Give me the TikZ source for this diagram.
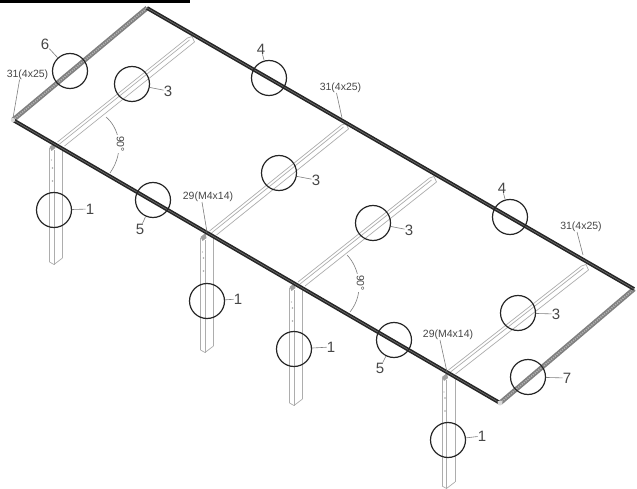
\documentclass[tikz,border=0pt]{standalone}
\usepackage{fontspec}
\setmainfont{Liberation Sans}
\definecolor{ink}{gray}{0.28}
\definecolor{partline}{gray}{0.68}
\tikzset{
  x=1pt,y=-1pt,
  ring/.style={circle,draw=black!85,line width=1.2pt,minimum size=35pt,inner sep=0pt},
  numlabel/.style={text=ink,font=\fontsize{15}{15}\selectfont,inner sep=0pt},
  dimlabel/.style={text=ink,font=\fontsize{10.5}{11}\selectfont,inner sep=0pt},
  leader/.style={draw=ink!70,line width=.6pt},
  partedge/.style={draw=partline,line width=.7pt},
  beamdark/.style={draw=black!85,line width=3.8pt},
  beamlight/.style={draw=black!55,line width=.6pt},
  hatchbase/.style={draw=black!50,line width=4.8pt},
  hatchtop/.style={draw=white!70!black,line width=1.6pt,dash pattern=on 1.2pt off 1.2pt},
}
\newcommand{\rafter}[4]{%
  \draw[partedge] (#1-3.5,#2-2) -- (#3-3.5,#4-2);
  \draw[partedge] (#1-1.5,#2) -- (#3-1.5,#4);
  \draw[partedge] (#1+3.5,#2+2) -- (#3+3.5,#4+2);
  \draw[partedge] (#3-3.5,#4-2) -- (#3+1,#4-3.5) -- (#3+3.5,#4+2);
}
\newcommand{\postbar}[4]{%
  \draw[partedge] (#1,#2) -- (#1,#3);
  \draw[partedge] (#1+4.5,#2+2) -- (#1+4.5,#3+2.5);
  \draw[partedge] (#1+13,#2) -- (#1+13,#3-4);
  \draw[partedge] (#1,#3) -- (#1+4.5,#3+2.5) -- (#1+13,#3-4);
  \fill[gray!75] (#1,#2-1) -- (#1+5,#2-5) -- (#1+6,#2) -- (#1+2,#2+3) -- cycle;
  \fill[gray!70] (#1+3,#2+20) circle (.8);
  \fill[gray!70] (#1+3,#2+33) circle (.8);
  \fill[gray!70] (#1+2,#2+#4) circle (.7);
}
\begin{document}
\begin{tikzpicture}
\useasboundingbox (0,0) rectangle (637,489);
\fill[white] (0,0) rectangle (637,489);
\fill[black] (0,0) rectangle (190,3);

% frame corners
\coordinate (A) at (13,120);
\coordinate (B) at (147,8);
\coordinate (C) at (634,289);
\coordinate (D) at (500,403);

% posts
\postbar{49.5}{148}{262}{12}
\postbar{200.5}{238}{350}{14}
\postbar{289.5}{288}{403}{14}
\postbar{442}{378}{486}{14}

% rafters
\rafter{61}{144}{191}{40}
\rafter{213}{233}{345}{127}
\rafter{301.5}{284}{433}{180}
\rafter{452}{372}{585}{268}

% side members
\draw[hatchbase] (A) -- (B);
\draw[hatchtop] (A) -- (B);
\draw[hatchbase] (D) -- (C);
\draw[hatchtop] (D) -- (C);

% long beams
\draw[beamdark] (A) -- (D);
\draw[beamlight] (A) -- (D);
\draw[beamdark] (B) -- (C);
\draw[beamlight] (B) -- (C);
\fill[white!85!black] (13,120) circle (2.2);
\fill[white!85!black] (500,403) circle (2.5);

% angle marks
\draw[leader] (106,117) .. controls (118,127) and (126,150) .. (110,173);
\draw[leader] (347,255) .. controls (358,266) and (366,292) .. (350,312);
\node[dimlabel,fill=white,inner sep=.6pt,rotate=-90] (ang1) at (120.5,144) {90°};
\node[dimlabel,fill=white,inner sep=.6pt,rotate=-90] (ang2) at (360.5,283) {90°};

% rings
\node[ring] (r6) at (70,71) {};
\node[ring] (r3a) at (132,84) {};
\node[ring] (r4a) at (269,78) {};
\node[ring] (r1a) at (54,210) {};
\node[ring] (r5a) at (153,200) {};
\node[ring] (r3b) at (279,173) {};
\node[ring] (r1b) at (207,301) {};
\node[ring] (r3c) at (373,223) {};
\node[ring] (r1c) at (294,349) {};
\node[ring] (r5b) at (394,340) {};
\node[ring] (r4b) at (510,217) {};
\node[ring] (r3d) at (518,313) {};
\node[ring] (r7) at (528,377) {};
\node[ring] (r1d) at (448,440) {};

% number labels
\node[numlabel] (n6) at (45,44) {6};
\node[numlabel] (n3a) at (168,91) {3};
\node[numlabel] (n4a) at (261,49) {4};
\node[numlabel] (n1a) at (90,209) {1};
\node[numlabel] (n5a) at (140,229) {5};
\node[numlabel] (n3b) at (316,180) {3};
\node[numlabel] (n1b) at (238,299) {1};
\node[numlabel] (n3c) at (409,230) {3};
\node[numlabel] (n1c) at (331,347) {1};
\node[numlabel] (n5b) at (380,368) {5};
\node[numlabel] (n4b) at (502,188) {4};
\node[numlabel] (n3d) at (556,314) {3};
\node[numlabel] (n7) at (567,378) {7};
\node[numlabel] (n1d) at (482,436) {1};

\draw[leader] (n6) -- (r6);
\draw[leader] (n3a) -- (r3a);
\draw[leader] (n4a) -- (r4a);
\draw[leader] (n1a) -- (r1a);
\draw[leader] (n5a) -- (r5a);
\draw[leader] (n3b) -- (r3b);
\draw[leader] (n1b) -- (r1b);
\draw[leader] (n3c) -- (r3c);
\draw[leader] (n1c) -- (r1c);
\draw[leader] (n5b) -- (r5b);
\draw[leader] (n4b) -- (r4b);
\draw[leader] (n3d) -- (r3d);
\draw[leader] (n7) -- (r7);
\draw[leader] (n1d) -- (r1d);

% dimension labels
\node[dimlabel] (d1) at (27.5,74.5) {31(4x25)};
\node[dimlabel] (d2) at (340.5,88) {31(4x25)};
\node[dimlabel] (d3) at (581,227) {31(4x25)};
\node[dimlabel] (d4) at (208,197) {29(M4x14)};
\node[dimlabel] (d5) at (448,335) {29(M4x14)};
\coordinate (t1) at (13,118);
\coordinate (t2) at (342,118);
\coordinate (t3) at (583,255);
\coordinate (t4) at (207,232);
\coordinate (t5) at (447,372);
\draw[leader] (d1.south west) ++(13,0) -- (t1);
\draw[leader] (d2) ++(-4,5) -- (t2);
\draw[leader] (d3) ++(-4,5) -- (t3);
\draw[leader] (d4) ++(-6,5) -- (t4);
\draw[leader] (d5) ++(-8,5) -- (t5);
\end{tikzpicture}
\end{document}
